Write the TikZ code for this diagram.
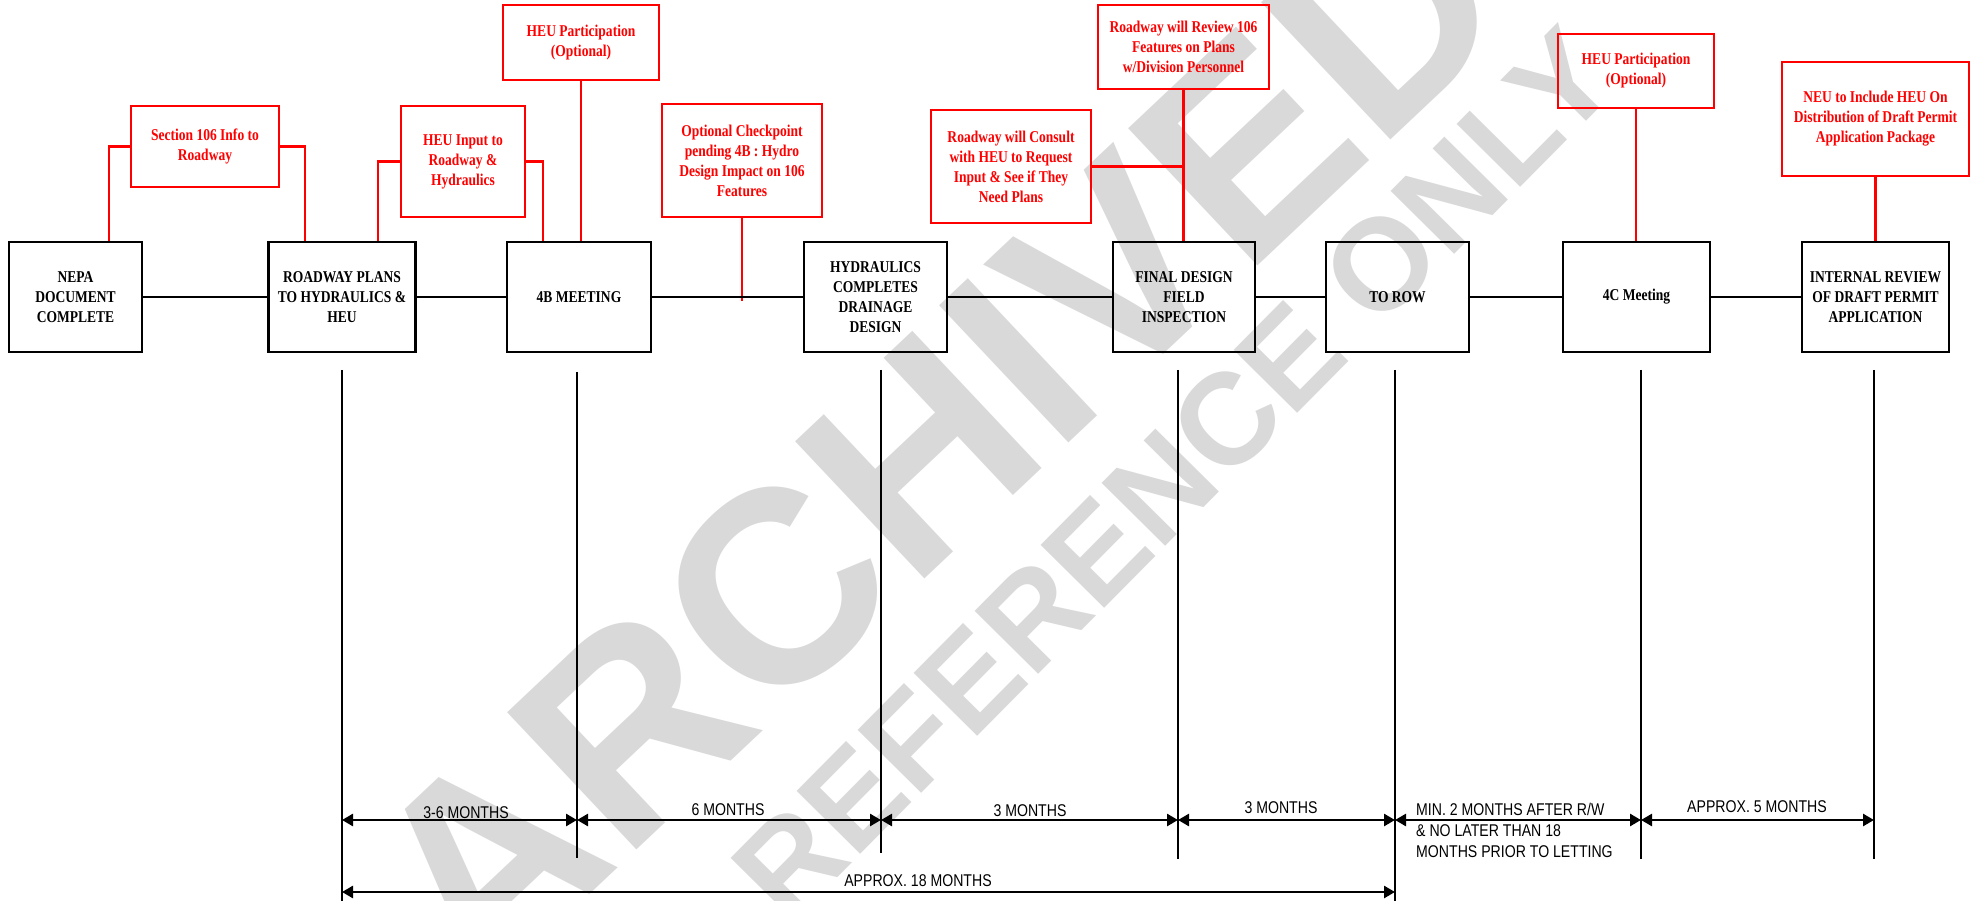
\documentclass[tikz,border=0pt]{standalone}
\usepackage{fontspec}
\setmainfont{Liberation Serif}[FakeStretch=0.82]
\newfontfamily\lblfont{Liberation Sans}[FakeStretch=0.83]
\newfontfamily\wmfont{Liberation Sans}
\usetikzlibrary{arrows.meta,calc}
\tikzset{
  blk/.style={draw=black, line width=2.6pt, inner sep=0pt, align=center, minimum height=110pt,
    font=\bfseries\fontsize{16.5}{20}\selectfont},
  rednote/.style={draw=red, line width=2.6pt, text=red, inner sep=0pt, align=center,
    font=\bfseries\fontsize{16.5}{20}\selectfont},
  blkline/.style={draw=black, line width=2.6pt},
  redline/.style={draw=red, line width=2.6pt},
  vline/.style={draw=black, line width=2pt},
  dimarrow/.style={draw=black, line width=2.6pt,
    {Triangle[length=11pt,width=12pt]}-{Triangle[length=11pt,width=12pt]}},
  dimlbl/.style={font=\lblfont\fontsize{17}{21}\selectfont, inner sep=0pt, anchor=base},
  wm/.style={text=gray!30, inner sep=0pt}
}
\begin{document}
\begin{tikzpicture}[x=1pt,y=-1pt]
\fill[white] (0,0) rectangle (1982,901);
\useasboundingbox (0,0) rectangle (1982,901);

% watermark
\node[wm, rotate=43.3, font=\wmfont\bfseries\fontsize{274}{274}\selectfont] (wm1) at (936,439) {ARCHIVED};
\node[wm, rotate=45.3, font=\wmfont\bfseries\fontsize{130}{130}\selectfont] (wm2) at (1174,474) {REFERENCE ONLY};

% timeline boxes
\node[blk, minimum width=133pt] (nepa) at (75.5,297) {NEPA\\DOCUMENT\\COMPLETE};
\node[blk, minimum width=147pt] (road) at (342,297) {ROADWAY PLANS\\TO HYDRAULICS \&\\HEU};
\node[blk, minimum width=144pt] (m4b) at (579,297) {4B MEETING};
\node[blk, minimum width=143pt] (hyd) at (875.5,297) {HYDRAULICS\\COMPLETES\\DRAINAGE\\DESIGN};
\node[blk, minimum width=142pt] (fdfi) at (1184,297) {FINAL DESIGN\\FIELD\\INSPECTION};
\node[blk, minimum width=143pt] (torow) at (1397.5,297) {TO ROW};
\node[blk, minimum width=147pt] (m4c) at (1636.5,297) {4C Meeting};
\node[blk, minimum width=147pt] (irev) at (1875.5,297) {INTERNAL REVIEW\\OF DRAFT PERMIT\\APPLICATION};

% red notes
\node[rednote, minimum width=148pt, minimum height=81pt] (s106) at (205,146.5) {Section 106 Info to\\Roadway};
\node[rednote, minimum width=124pt, minimum height=111pt] (heuin) at (463,161.5) {HEU Input to\\Roadway \&\\Hydraulics};
\node[rednote, minimum width=156pt, minimum height=75pt] (heup1) at (581,42.5) {HEU Participation\\(Optional)};
\node[rednote, minimum width=160pt, minimum height=113pt] (optck) at (742,160.5) {Optional Checkpoint\\pending 4B : Hydro\\Design Impact on 106\\Features};
\node[rednote, minimum width=171pt, minimum height=84pt] (rwrev) at (1183.5,47) {Roadway will Review 106\\Features on Plans\\w/Division Personnel};
\node[rednote, minimum width=160pt, minimum height=113pt] (rwcon) at (1011,166.5) {Roadway will Consult\\with HEU to Request\\Input \& See if They\\Need Plans};
\node[rednote, minimum width=156pt, minimum height=74pt] (heup2) at (1636,71) {HEU Participation\\(Optional)};
\node[rednote, minimum width=187pt, minimum height=114pt] (neu) at (1875.5,119) {NEU to Include HEU On\\Distribution of Draft Permit\\Application Package};

% red connectors
\draw[redline] (s106.west) -| ([xshift=33.5pt]nepa.north);
\draw[redline] (s106.east) -| ([xshift=-37pt]road.north);
\draw[redline] (heuin.west) -| ([xshift=36pt]road.north);
\draw[redline] (heuin.east) -| ([xshift=-36pt]m4b.north);
\draw[redline] (heup1.south) -- (heup1.south |- m4b.north);
\coordinate (ckend) at (745,301);
\draw[redline] (optck.south) -- (optck.south |- ckend);
\draw[redline] (rwrev.south) -- (rwrev.south |- fdfi.north);
\draw[redline] (rwcon.east) -- (rwcon.east -| rwrev.south);
\draw[redline] (heup2.south) -- (heup2.south |- m4c.north);
\draw[redline] (neu.south) -- (neu.south |- irev.north);

% main timeline
\draw[blkline] (nepa) -- (road) (road) -- (m4b) (m4b) -- (hyd) (hyd) -- (fdfi)
  (fdfi) -- (torow) (torow) -- (m4c) (m4c) -- (irev);

% vertical markers
\coordinate (v1) at (342,370);  \coordinate (b1) at (342,901);
\coordinate (v2) at (577,372);  \coordinate (b2) at (577,858);
\coordinate (v3) at (881,370);  \coordinate (b3) at (881,853);
\coordinate (v4) at (1178,370); \coordinate (b4) at (1178,859);
\coordinate (v5) at (1395,370); \coordinate (b5) at (1395,901);
\coordinate (v6) at (1641,370); \coordinate (b6) at (1641,859);
\coordinate (v7) at (1874,370); \coordinate (b7) at (1874,859);
\foreach \i in {1,...,7} \draw[vline] (v\i) -- (b\i);

% duration arrows
\coordinate (r1) at (0,820);
\coordinate (r2) at (0,892);
\draw[dimarrow] (v1 |- r1) -- (v2 |- r1);
\draw[dimarrow] (v2 |- r1) -- (v3 |- r1);
\draw[dimarrow] (v3 |- r1) -- (v4 |- r1);
\draw[dimarrow] (v4 |- r1) -- (v5 |- r1);
\draw[dimarrow] (v5 |- r1) -- (v6 |- r1);
\draw[dimarrow] (v6 |- r1) -- (v7 |- r1);
\draw[dimarrow] (v1 |- r2) -- (v5 |- r2);

% labels
\node[dimlbl] (l1) at (466,818) {3-6 MONTHS};
\node[dimlbl] (l2) at (728,815) {6 MONTHS};
\node[dimlbl] (l3) at (1030,816) {3 MONTHS};
\node[dimlbl] (l4) at (1281,813) {3 MONTHS};
\node[dimlbl, anchor=north west, align=left] (l5) at (1416,803) {MIN. 2 MONTHS AFTER R/W\\\& NO LATER THAN 18\\MONTHS PRIOR TO LETTING};
\node[dimlbl] (l6) at (1757,812) {APPROX. 5 MONTHS};
\node[dimlbl] (l7) at (918,886) {APPROX. 18 MONTHS};
\end{tikzpicture}
\end{document}
